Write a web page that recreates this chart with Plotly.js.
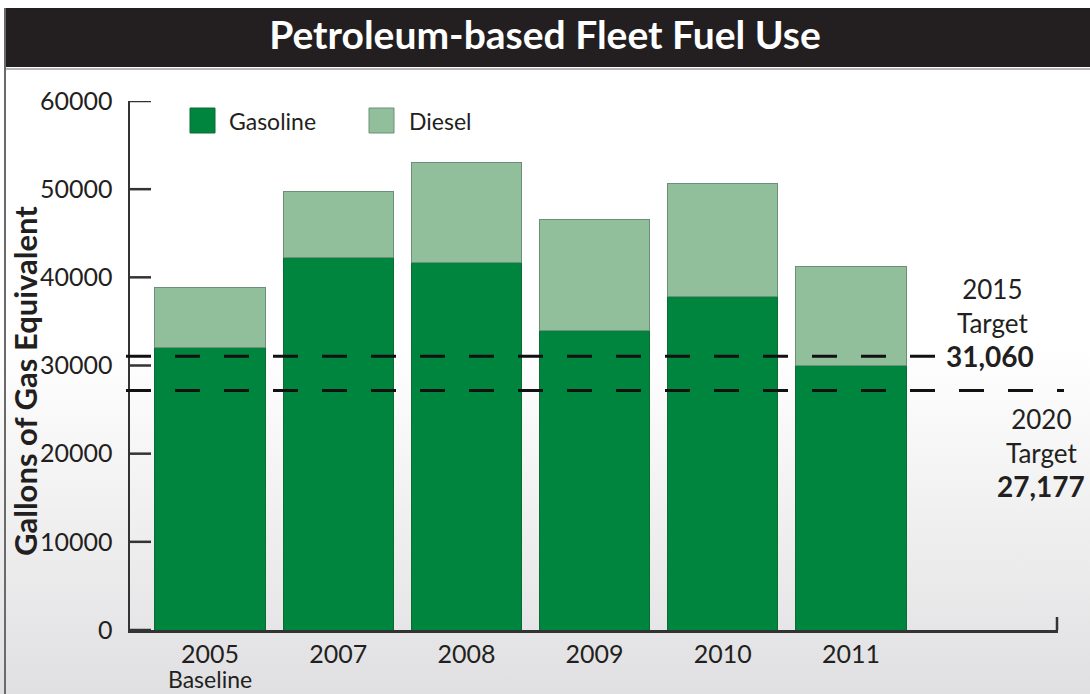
<!DOCTYPE html>
<html>
<head>
<meta charset="utf-8">
<script src="https://cdn.plot.ly/plotly-3.0.1.min.js"></script>
<style>
  html, body { margin: 0; padding: 0; }
  body { width: 1090px; height: 694px; overflow: hidden;
         background: linear-gradient(to bottom, #ffffff 0%, #ffffff 50%, #e0e0e2 100%); }
  #chart { width: 1090px; height: 694px; }
</style>
</head>
<body>
<div id="chart"></div>
<script>
// ---- data ----
const categories = ['2005', '2007', '2008', '2009', '2010', '2011'];
const categoryNotes = ['Baseline', '', '', '', '', ''];
const gasoline   = [32000, 42200, 41700, 34000, 37800, 30000];
const diesel     = [6900, 7500, 11300, 12600, 12800, 11200];
const seriesNames = ['Gasoline', 'Diesel'];
const targetValues = [31060, 27177];
const targetYears  = ['2015', '2020'];
const targetLabels = ['31,060', '27,177'];
const yTicks = [0, 10000, 20000, 30000, 40000, 50000, 60000];

// ---- style ----
const colors = ['#00853e', '#92bf9b'];
const lineColors = ['#0b6a36', '#6e8f77'];
const ink = '#231f20';
const FONT = 'Lato, "Open Sans", sans-serif';

// pixel -> paper helpers (plot area: x 130..1058, y 101..630)
const L = 130, R = 1058, T = 101, B = 630;
const px = x => (x - L) / (R - L);
const py = y => (B - y) / (B - T);

const traces = seriesNames.map((name, i) => ({
  type: 'bar',
  name: name,
  x: categories,
  y: i === 0 ? gasoline : diesel,
  marker: { color: colors[i], line: { color: lineColors[i], width: 1 } },
  showlegend: false,
  hoverinfo: 'y'
}));

const shapes = [
  // title bar
  { type: 'rect', xref: 'paper', yref: 'paper', x0: px(4), x1: px(1092), y0: py(8), y1: py(67),
    fillcolor: '#231f20', line: { width: 0 }, layer: 'below' },
  { type: 'line', xref: 'paper', yref: 'paper', x0: px(4), x1: px(1092), y0: py(69), y1: py(69),
    line: { color: '#b5b5b5', width: 2 }, layer: 'below' },
  // left border
  { type: 'line', xref: 'paper', yref: 'paper', x0: px(5), x1: px(5), y0: py(8), y1: py(700),
    line: { color: '#6a6a6a', width: 2 }, layer: 'below' },
  // right end tick of x-axis
  { type: 'line', xref: 'paper', yref: 'paper', x0: px(1057), x1: px(1057), y0: py(630), y1: py(617),
    line: { color: '#333', width: 2.5 } }
];

// y-axis tick marks (pointing inward)
yTicks.forEach(v => {
  shapes.push({ type: 'line', xref: 'paper', yref: 'y', x0: 0, x1: px(151), y0: v, y1: v,
    line: { color: '#333', width: 2.5 } });
});

// target dashed lines
const targetEnds = [940, 1064];
targetValues.forEach((v, i) => {
  shapes.push({ type: 'line', xref: 'paper', yref: 'y', x0: px(126), x1: px(targetEnds[i]), y0: v, y1: v,
    line: { color: '#111', width: 3, dash: '25px,24px' } });
});

// legend squares
const legendSq = [190, 369];
const legendTx = [227, 407];
seriesNames.forEach((n, i) => {
  shapes.push({ type: 'rect', xref: 'paper', yref: 'paper', x0: px(legendSq[i]), x1: px(legendSq[i] + 25),
    y0: py(133), y1: py(108), fillcolor: colors[i], line: { color: lineColors[i], width: 1 } });
});

const annotations = [];
seriesNames.forEach((n, i) => {
  annotations.push({ xref: 'paper', yref: 'paper', x: px(legendTx[i]), y: py(121), text: n,
    showarrow: false, xanchor: 'left', yanchor: 'middle', font: { family: FONT, size: 23, color: ink } });
});

// notes under category labels (x given as category index)
categoryNotes.forEach((n, i) => {
  if (n) annotations.push({ xref: 'x', yref: 'paper', x: i, y: py(679), text: n,
    showarrow: false, xanchor: 'center', yanchor: 'middle', font: { family: FONT, size: 23, color: ink } });
});

// target labels
annotations.push({ xref: 'paper', yref: 'paper', x: px(992), y: py(306), text: targetYears[0] + '<br>Target',
  showarrow: false, xanchor: 'center', yanchor: 'middle', font: { family: FONT, size: 26, color: ink } });
annotations.push({ xref: 'paper', yref: 'y', x: px(944), y: targetValues[0], text: '<b>' + targetLabels[0] + '</b>',
  showarrow: false, xanchor: 'left', yanchor: 'middle', font: { family: FONT, size: 28, color: ink } });
annotations.push({ xref: 'paper', yref: 'paper', x: px(1041), y: py(436), text: targetYears[1] + '<br>Target',
  showarrow: false, xanchor: 'center', align: 'center', yanchor: 'middle', font: { family: FONT, size: 26, color: ink } });
annotations.push({ xref: 'paper', yref: 'paper', x: px(1041), y: py(486), text: '<b>' + targetLabels[1] + '</b>',
  showarrow: false, xanchor: 'center', yanchor: 'middle', font: { family: FONT, size: 28, color: ink } });

// y-axis title
annotations.push({ xref: 'paper', yref: 'paper', x: px(25), y: py(381), text: '<b>Gallons of Gas Equivalent</b>',
  textangle: -90, showarrow: false, xanchor: 'center', yanchor: 'middle', font: { family: FONT, size: 31, color: ink } });

const layout = {
  width: 1090, height: 694,
  margin: { l: L, r: 1090 - R, t: T, b: 694 - B, pad: 0 },
  paper_bgcolor: 'rgba(0,0,0,0)',
  plot_bgcolor: 'rgba(0,0,0,0)',
  barmode: 'stack',
  bargap: 0.14,
  showlegend: false,
  title: { text: '<b>Petroleum-based Fleet Fuel Use</b>', xref: 'container', yref: 'container',
    x: 0.5, xanchor: 'center', y: 1 - 35 / 694, yanchor: 'middle',
    font: { family: FONT, size: 39, color: '#ffffff' } },
  xaxis: {
    type: 'category', range: [-0.624, 6.615], fixedrange: true,
    showline: true, linecolor: '#333', linewidth: 2.5, ticks: '', showgrid: false, zeroline: false,
    tickfont: { family: FONT, size: 25, color: ink }, ticklabelstandoff: 0
  },
  yaxis: {
    range: [0, 60000], tickvals: yTicks, ticktext: yTicks.map(String), fixedrange: true,
    showline: true, linecolor: '#333', linewidth: 2.5, ticks: '',
    showgrid: false, zeroline: false, ticklabelstandoff: 10,
    tickfont: { family: FONT, size: 25, color: ink }
  },
  shapes: shapes,
  annotations: annotations
};

Plotly.newPlot('chart', traces, layout, { displayModeBar: false, staticPlot: true });
</script>
</body>
</html>
